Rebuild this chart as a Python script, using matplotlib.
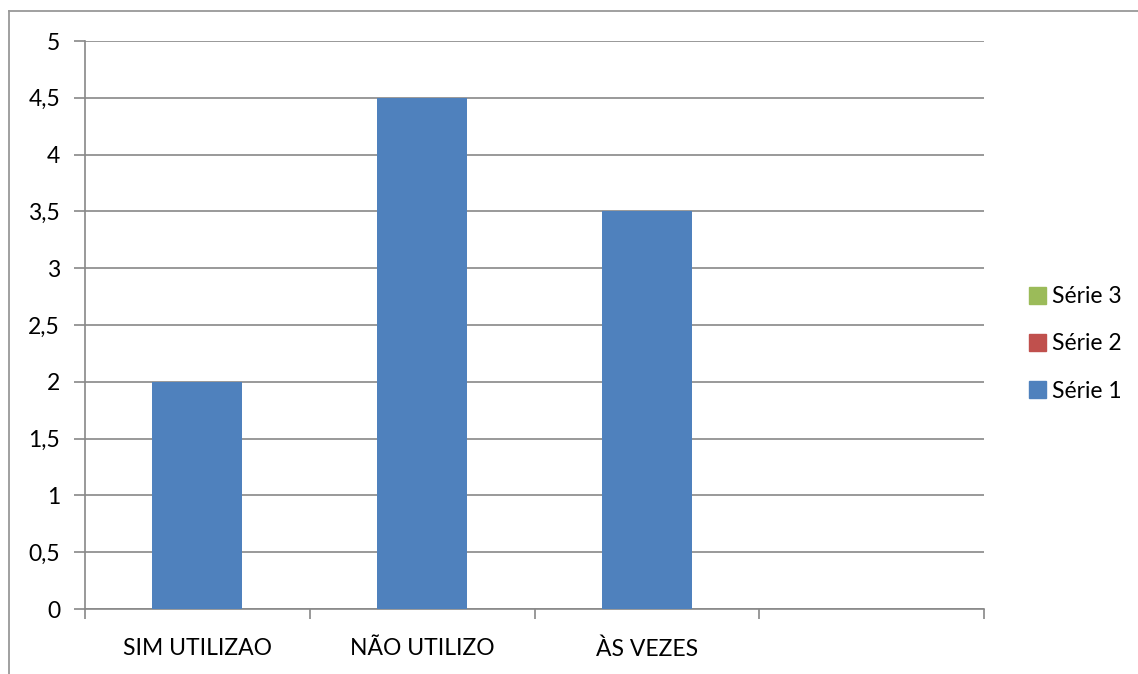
import numpy as np
import matplotlib
matplotlib.use("Agg")
import matplotlib.pyplot as plt
from matplotlib.patches import Patch
from matplotlib.lines import Line2D

categories = ["SIM UTILIZAO", "NÃO UTILIZO", "ÀS VEZES", ""]
serie1 = [2, 4.5, 3.5, np.nan]
series_names = ["Série 1", "Série 2", "Série 3"]
series_colors = ["#4F81BD", "#C0504D", "#9BBB59"]
yticks = [0, 0.5, 1, 1.5, 2, 2.5, 3, 3.5, 4, 4.5, 5]

plt.rcParams['font.family'] = ['Lato', 'DejaVu Sans']
grid_c = "#888888"
fs = 16.5

fig = plt.figure(figsize=(11.38, 6.74), dpi=100)
W, H = 1138, 674
ax = fig.add_axes([85 / W, 1 - 609 / H, (984 - 85) / W, (609 - 41) / H])

x = np.arange(len(categories))
ax.bar(x, serie1, width=0.4, color=series_colors[0], zorder=3)

ax.set_xlim(-0.5, len(categories) - 0.5)
ax.set_ylim(0, 5)
ax.set_yticks(yticks)
ax.set_yticklabels([("%g" % v).replace(".", ",") for v in yticks], fontsize=fs)
ax.yaxis.grid(True, color=grid_c, linewidth=1.2, zorder=0)

ax.set_xticks(x)
ax.set_xticklabels(categories, fontsize=fs)
ax.set_xticks(np.arange(-0.5, len(categories)), minor=True)
ax.tick_params(axis="x", which="major", length=0, pad=21)
ax.tick_params(axis="x", which="minor", length=7, color=grid_c, width=1.2)
ax.tick_params(axis="y", length=8, color=grid_c, width=1.2, pad=10)

for s in ["top", "right"]:
    ax.spines[s].set_visible(False)
for s in ["left", "bottom"]:
    ax.spines[s].set_color(grid_c)
    ax.spines[s].set_linewidth(1.2)

# chart frame (top and left edges visible)
fig.add_artist(Line2D([9 / W, 1], [1 - 11 / H, 1 - 11 / H], color="#999999", linewidth=1.3))
fig.add_artist(Line2D([9 / W, 9 / W], [0, 1 - 11 / H], color="#999999", linewidth=1.3))

handles = [Patch(color=c) for c in series_colors][::-1]
labels = series_names[::-1]
fig.legend(handles, labels, loc="center left", bbox_to_anchor=(1008 / W, 1 - 344 / H),
           frameon=False, fontsize=fs, handlelength=0.75, handleheight=0.75,
           handletextpad=0.25, labelspacing=1.15)

fig.savefig("out.png", dpi=100)
